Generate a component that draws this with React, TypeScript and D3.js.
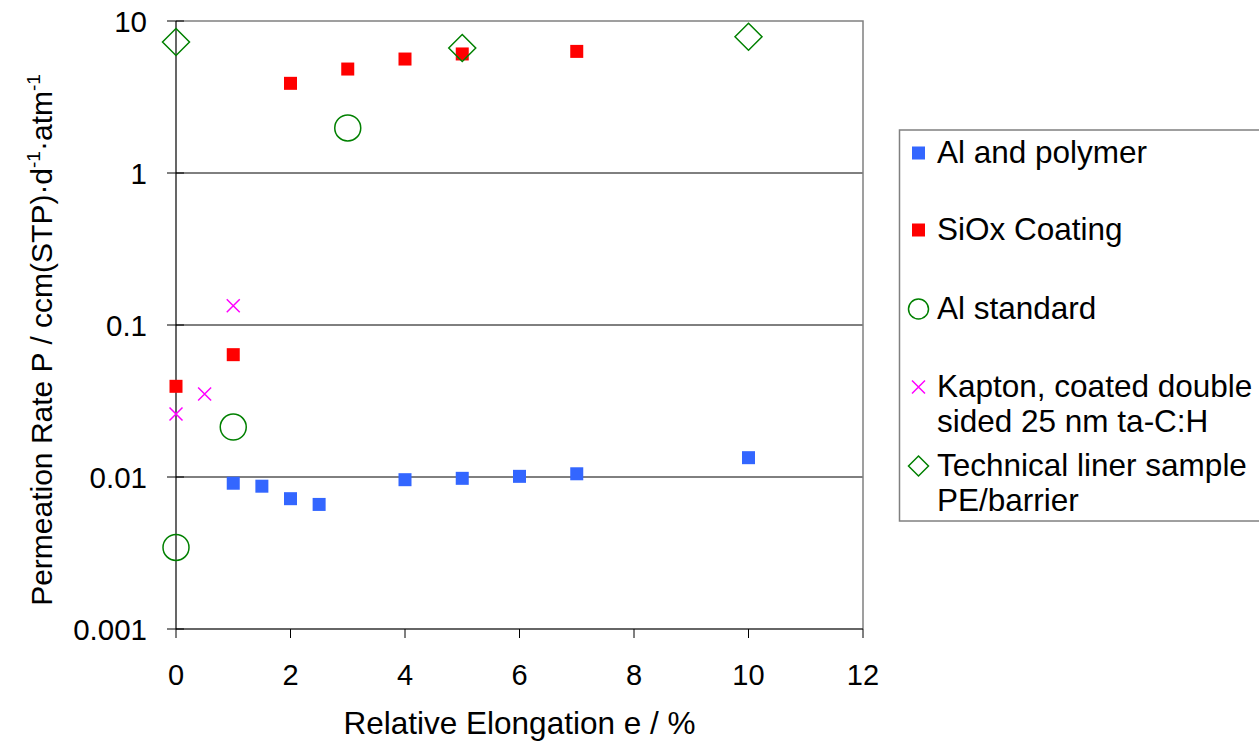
import * as d3 from "d3";
import { useRef, useEffect } from "react";

// relative elongation e (%) and permeation rate P for each sample series
const alPolymerX = [1, 1.5, 2, 2.5, 4, 5, 6, 7, 10];
const alPolymerY = [0.0091, 0.0087, 0.0072, 0.0066, 0.0096, 0.0098, 0.0101, 0.0105, 0.0134];

const sioxX = [0, 1, 2, 3, 4, 5, 7];
const sioxY = [0.0395, 0.0638, 3.89, 4.83, 5.62, 6.07, 6.31];

const alStandardX = [0, 1, 3];
const alStandardY = [0.00344, 0.0213, 1.98];

const kaptonX = [0, 0.5, 1];
const kaptonY = [0.026, 0.0352, 0.134];

const linerX = [0, 5, 10];
const linerY = [7.28, 6.64, 7.88];

const xTicks = [0, 2, 4, 6, 8, 10, 12];
const yTicks = [0.001, 0.01, 0.1, 1, 10];
const yTickLabels = ["0.001", "0.01", "0.1", "1", "10"];

const legendLabels = [
    ["Al and polymer"],
    ["SiOx Coating"],
    ["Al standard"],
    ["Kapton, coated double", "sided 25 nm ta-C:H"],
    ["Technical liner sample", "PE/barrier"],
];

const BLUE = "#3366ff";
const RED = "#ff0000";
const GREEN = "#008000";
const MAGENTA = "#ff00ff";
const FONT = "'Liberation Sans', Arial, sans-serif";

const App = () => {
    const chartRef = useRef(null);

    const width = 1259;
    const height = 746;
    const margin = { top: 21, bottom: 117, left: 176, right: 396 };

    useEffect(() => {
        const svg = d3.select(chartRef.current);
        svg.selectAll('*').remove();

        const scaleX = d3.scaleLinear()
                         .domain([0, 12])
                         .range([margin.left, width - margin.right]);
        const scaleY = d3.scaleLog()
                         .domain([0.001, 10])
                         .range([height - margin.bottom, margin.top]);

        const x0 = scaleX(0), x1 = scaleX(12);
        const yb = scaleY(0.001), yt = scaleY(10);

        // gridlines
        svg.selectAll('.grid')
           .data([0.01, 0.1, 1])
           .enter()
           .append('line')
           .attr('x1', x0).attr('x2', x1)
           .attr('y1', d => scaleY(d)).attr('y2', d => scaleY(d))
           .attr('stroke', '#000').attr('stroke-width', 1);

        // plot border (top, right) in gray
        svg.append('path')
           .attr('d', `M${x0},${yt}H${x1}V${yb}`)
           .attr('fill', 'none')
           .attr('stroke', '#808080')
           .attr('stroke-width', 1.5);

        // axes
        svg.append('line')
           .attr('x1', x0).attr('x2', x1).attr('y1', yb).attr('y2', yb)
           .attr('stroke', '#333').attr('stroke-width', 1.5);
        svg.append('line')
           .attr('x1', x0).attr('x2', x0).attr('y1', yt).attr('y2', yb)
           .attr('stroke', '#000').attr('stroke-width', 1.2);

        // y ticks
        svg.selectAll('.ytick')
           .data(yTicks)
           .enter()
           .append('line')
           .attr('x1', x0 - 9).attr('x2', x0 + 8)
           .attr('y1', d => scaleY(d)).attr('y2', d => scaleY(d))
           .attr('stroke', '#000').attr('stroke-width', 1);
        svg.selectAll('.ylabel')
           .data(yTicks)
           .enter()
           .append('text')
           .attr('x', x0 - 29)
           .attr('y', d => scaleY(d) + 10.5)
           .attr('text-anchor', 'end')
           .attr('font-family', FONT)
           .attr('font-size', 29.5)
           .text((d, i) => yTickLabels[i]);

        // x ticks
        svg.selectAll('.xtick')
           .data(xTicks)
           .enter()
           .append('line')
           .attr('x1', d => scaleX(d)).attr('x2', d => scaleX(d))
           .attr('y1', yb).attr('y2', yb + 9)
           .attr('stroke', '#000').attr('stroke-width', 1);
        svg.selectAll('.xlabel')
           .data(xTicks)
           .enter()
           .append('text')
           .attr('x', d => scaleX(d))
           .attr('y', yb + 56)
           .attr('text-anchor', 'middle')
           .attr('font-family', FONT)
           .attr('font-size', 29)
           .text(d => d);

        // axis titles
        svg.append('text')
           .attr('x', (x0 + x1) / 2)
           .attr('y', 734)
           .attr('text-anchor', 'middle')
           .attr('font-family', FONT)
           .attr('font-size', 31.5)
           .text('Relative Elongation e / %');

        const yTitle = svg.append('text')
           .attr('transform', `translate(52, ${(yt + yb) / 2 + 15}) rotate(-90)`)
           .attr('text-anchor', 'middle')
           .attr('font-family', FONT)
           .attr('font-size', 30);
        yTitle.append('tspan').text('Permeation Rate P / ccm(STP)·d');
        yTitle.append('tspan').attr('dy', -12).attr('font-size', 19).text('-1');
        yTitle.append('tspan').attr('dy', 12).text('·atm');
        yTitle.append('tspan').attr('dy', -12).attr('font-size', 19).text('-1');

        // markers
        const drawSquares = (xs, ys, color) => {
            svg.selectAll(null)
               .data(xs)
               .enter()
               .append('rect')
               .attr('x', d => scaleX(d) - 6.5)
               .attr('y', (d, i) => scaleY(ys[i]) - 6.5)
               .attr('width', 13).attr('height', 13)
               .attr('fill', color);
        };
        drawSquares(alPolymerX, alPolymerY, BLUE);
        drawSquares(sioxX, sioxY, RED);

        svg.selectAll(null)
           .data(alStandardX)
           .enter()
           .append('circle')
           .attr('cx', d => scaleX(d))
           .attr('cy', (d, i) => scaleY(alStandardY[i]))
           .attr('r', 13)
           .attr('fill', 'none')
           .attr('stroke', GREEN).attr('stroke-width', 1.5);

        const crossPath = (cx, cy, s) =>
            `M${cx - s},${cy - s}L${cx + s},${cy + s}M${cx - s},${cy + s}L${cx + s},${cy - s}`;
        const diamondPath = (cx, cy, s) =>
            `M${cx},${cy - s}L${cx + s},${cy}L${cx},${cy + s}L${cx - s},${cy}Z`;

        svg.selectAll(null)
           .data(kaptonX)
           .enter()
           .append('path')
           .attr('d', (d, i) => crossPath(scaleX(d), scaleY(kaptonY[i]), 6.5))
           .attr('stroke', MAGENTA).attr('stroke-width', 1.5);

        svg.selectAll(null)
           .data(linerX)
           .enter()
           .append('path')
           .attr('d', (d, i) => diamondPath(scaleX(d), scaleY(linerY[i]), 13.5))
           .attr('fill', 'none')
           .attr('stroke', GREEN).attr('stroke-width', 1.5);

        // legend
        svg.append('rect')
           .attr('x', 899.5).attr('y', 130)
           .attr('width', 370).attr('height', 391)
           .attr('fill', 'none')
           .attr('stroke', '#808080').attr('stroke-width', 1.5);

        const baselines = [163, 240, 319, 397, 476];
        const mx = 918.5;
        legendLabels.forEach((lines, i) => {
            const t = svg.append('text')
                         .attr('font-family', FONT)
                         .attr('font-size', 31.5);
            lines.forEach((ln, j) => {
                t.append('tspan')
                 .attr('x', 937)
                 .attr('y', baselines[i] + j * 35)
                 .text(ln);
            });
            const my = baselines[i] - 10;
            if (i === 0 || i === 1) {
                svg.append('rect')
                   .attr('x', mx - 6.5).attr('y', my - 6.5)
                   .attr('width', 13).attr('height', 13)
                   .attr('fill', i === 0 ? BLUE : RED);
            } else if (i === 2) {
                svg.append('circle')
                   .attr('cx', mx).attr('cy', my).attr('r', 10)
                   .attr('fill', 'none')
                   .attr('stroke', GREEN).attr('stroke-width', 1.5);
            } else if (i === 3) {
                svg.append('path')
                   .attr('d', crossPath(mx, my, 6.5))
                   .attr('stroke', MAGENTA).attr('stroke-width', 1.5);
            } else {
                svg.append('path')
                   .attr('d', diamondPath(mx, my, 10))
                   .attr('fill', 'none')
                   .attr('stroke', GREEN).attr('stroke-width', 1.5);
            }
        });
    }, []);

    return (
        <svg ref={chartRef} width={width} height={height}
             style={{ position: 'absolute', left: 0, top: 0, background: '#fff' }}></svg>
    );
}

export default App;
